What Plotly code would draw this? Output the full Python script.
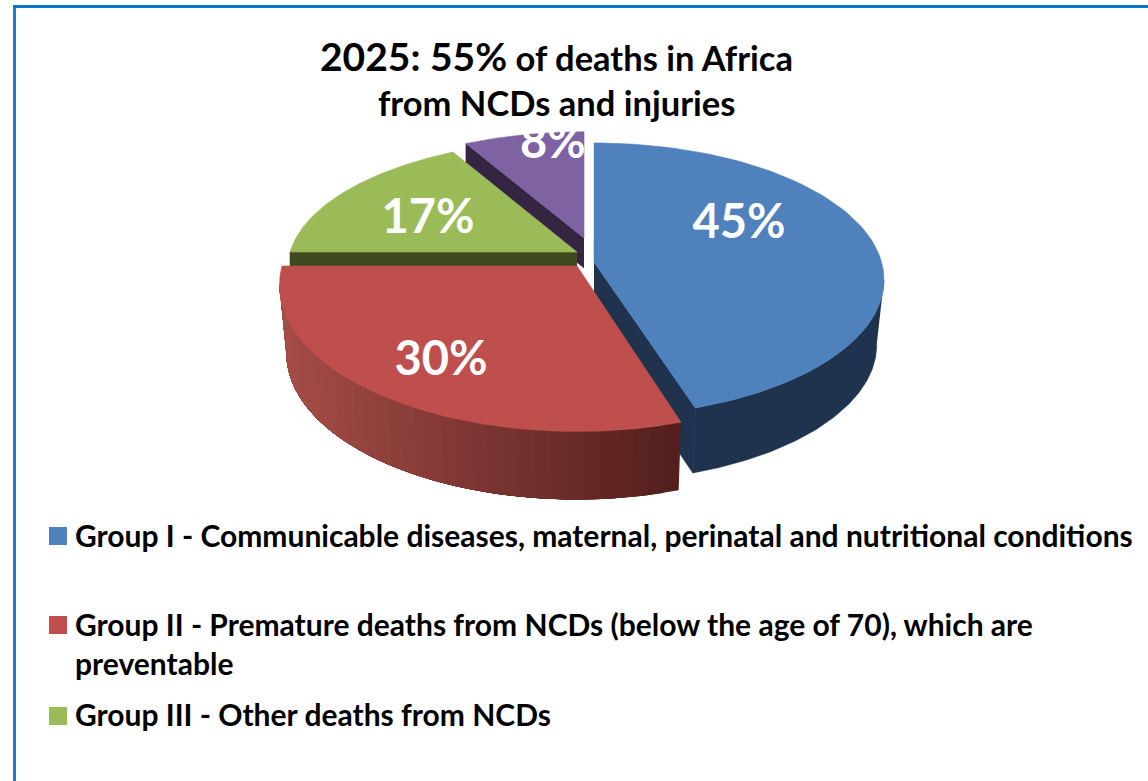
import numpy as np
import plotly.graph_objects as go

# ---- data ----
slice_names = ["Group I", "Group II", "Group III", "Group IV"]
slice_values = [45, 30, 17, 8]
slice_colors = ["#4F81BD", "#BE4F4C", "#9BBB59", "#7F62A1"]
wall_colors = ["#1F334F", None, "#3F4A1F", "#342643"]
legend_lines = [
    "Group I - Communicable diseases, maternal, perinatal and nutritional conditions",
    "Group II - Premature deaths from NCDs (below the age of 70), which are<br>preventable",
    "Group III - Other deaths from NCDs",
]

# ---- drawing geometry (pixels on a full-page hidden axis) ----
W, H = 1148, 781
FONT = "Lato"
K = 0.13
geom = {  # apex x, apex y, Rx, Ry, wall depth, wall narrowing
    0: (594, 262, 287.5, 134.5, 65, 0.975),
    1: (577, 266, 295, 144, 68, 0.977),
    2: (577, 252, 287, 127, 14, 1.0),
    3: (584, 238, 273, 120, 30, 1.0),
}
label_pos = [(739, 226), (441, 363), (428, 221), (553, 146)]
swatch_y = [536, 625, 716]
legend_top = [514.5, 603.5, 693.5]

total = sum(slice_values)
edges = np.cumsum([0] + slice_values) / total * 2 * np.pi
# angle from the front where the rim is widest on screen (wall silhouette)
tangent = np.arccos(-K)


def rim(i, t0, t1, n=80):
    ax, ay, rx, ry, _, _ = geom[i]
    t = np.linspace(t0, t1, n)
    u, v = np.sin(t), -np.cos(t)
    s = 1 / (1 - K * v)
    return ax + rx * u * s, ay + ry * v * s


def lower(i, x, y):
    ax, ay, _, _, d, nw = geom[i]
    return ax + (np.asarray(x) - ax) * nw, np.asarray(y) + d


def poly(x, y, color, lw=0.6):
    return go.Scatter(
        x=list(x), y=list(y), mode="lines", fill="toself", fillcolor=color,
        line=dict(color=color, width=lw), hoverinfo="skip", showlegend=False,
    )


def top(i):
    x, y = rim(i, edges[i], edges[i + 1])
    ax, ay = geom[i][:2]
    return poly(np.r_[ax, x, ax], np.r_[ay, y, ay], slice_colors[i])


def cut_face(i, t):
    x, y = rim(i, t, t, 1)
    ax, ay = geom[i][:2]
    xs = np.r_[ax, x[0]]
    ys = np.r_[ay, y[0]]
    lx, ly = lower(i, xs, ys)
    return poly(np.r_[xs, lx[::-1]], np.r_[ys, ly[::-1]], wall_colors[i])


def mix(c0, c1, f):
    c = [int(round(a + (b - a) * f)) for a, b in zip(c0, c1)]
    return "rgb(%d,%d,%d)" % tuple(c)


traces = []
# Group IV
traces.append(cut_face(3, edges[3]))
traces.append(top(3))
# Group III
traces.append(cut_face(2, edges[2]))
traces.append(top(2))
# Group I
x, y = rim(0, tangent, edges[1])
lx, ly = lower(0, x, y)
traces.append(poly(np.r_[x, lx[::-1]], np.r_[y, ly[::-1]], wall_colors[0]))
traces.append(cut_face(0, edges[1]))
traces.append(top(0))
# Group II outer wall: stepped shading, each step painted over the previous one
n_strips = 36
end_t = 2 * np.pi - tangent
t_steps = np.linspace(edges[1], end_t, n_strips + 1)
x_all, _ = rim(1, edges[1], end_t, n_strips + 1)
for j in range(n_strips):
    x, y = rim(1, t_steps[j], end_t, 60)
    lx, ly = lower(1, x, y)
    f = (x_all[j] - x_all.min()) / (x_all.max() - x_all.min())
    col = mix((166, 77, 72), (84, 31, 29), f)
    traces.append(poly(np.r_[x, lx[::-1]], np.r_[y, ly[::-1]], col, lw=0))
traces.append(top(1))

# data labels, under the mask that trims the "8%"
traces.append(go.Scatter(
    x=[p[0] for p in label_pos], y=[p[1] for p in label_pos],
    text=[f"{v}%" for v in slice_values], mode="text",
    textposition="middle center",
    textfont=dict(family=FONT, size=47, color="white", weight="bold"),
    hoverinfo="skip", showlegend=False,
))
# legend swatches
for yy, name, col in zip(swatch_y, slice_names, slice_colors):
    traces.append(go.Scatter(
        x=[58], y=[yy], mode="markers", name=name,
        marker=dict(symbol="square", size=18, color=col, line=dict(width=0)),
        hoverinfo="skip", showlegend=False,
    ))

annotations = [
    dict(x=73, y=yy, text=f"<b>{t}</b>", xanchor="left", yanchor="top",
         align="left", showarrow=False,
         font=dict(family=FONT, size=30, color="black"))
    for t, yy in zip(legend_lines, legend_top)
]
annotations.append(dict(
    x=556, y=56, xanchor="center", yanchor="middle", showarrow=False,
    text="<b><span style='font-size:39px'>2025: 55%</span> of deaths in Africa</b>",
    font=dict(family=FONT, size=34.5, color="black"),
))
annotations.append(dict(
    x=556, y=102, xanchor="center", yanchor="middle", showarrow=False,
    text="<b>from NCDs and injuries</b>",
    font=dict(family=FONT, size=34.5, color="black"),
))

shapes = [
    dict(type="rect", x0=300, x1=850, y0=0, y1=131, fillcolor="white",
         line=dict(width=0), layer="above"),
    dict(type="rect", x0=585, x1=593.4, y0=125, y1=240, fillcolor="white",
         line=dict(width=0), layer="above"),
    dict(type="line", x0=14.5, x1=14.5, y0=6.5, y1=H,
         line=dict(color="#1B7FCF", width=3), layer="above"),
    dict(type="line", x0=13, x1=W, y0=6.5, y1=6.5,
         line=dict(color="#0B72C4", width=3), layer="above"),
]

fig = go.Figure(traces)
fig.update_layout(
    width=W, height=H, autosize=False,
    margin=dict(l=0, r=0, t=0, b=0, pad=0),
    paper_bgcolor="white", plot_bgcolor="white",
    xaxis=dict(range=[0, W], visible=False, fixedrange=True),
    yaxis=dict(range=[H, 0], visible=False, fixedrange=True),
    annotations=annotations, shapes=shapes, showlegend=False,
)
fig.write_html(
    "out.html",
    post_script="document.body.style.margin='0';document.body.style.overflow='hidden';",
    config=dict(displayModeBar=False),
)
